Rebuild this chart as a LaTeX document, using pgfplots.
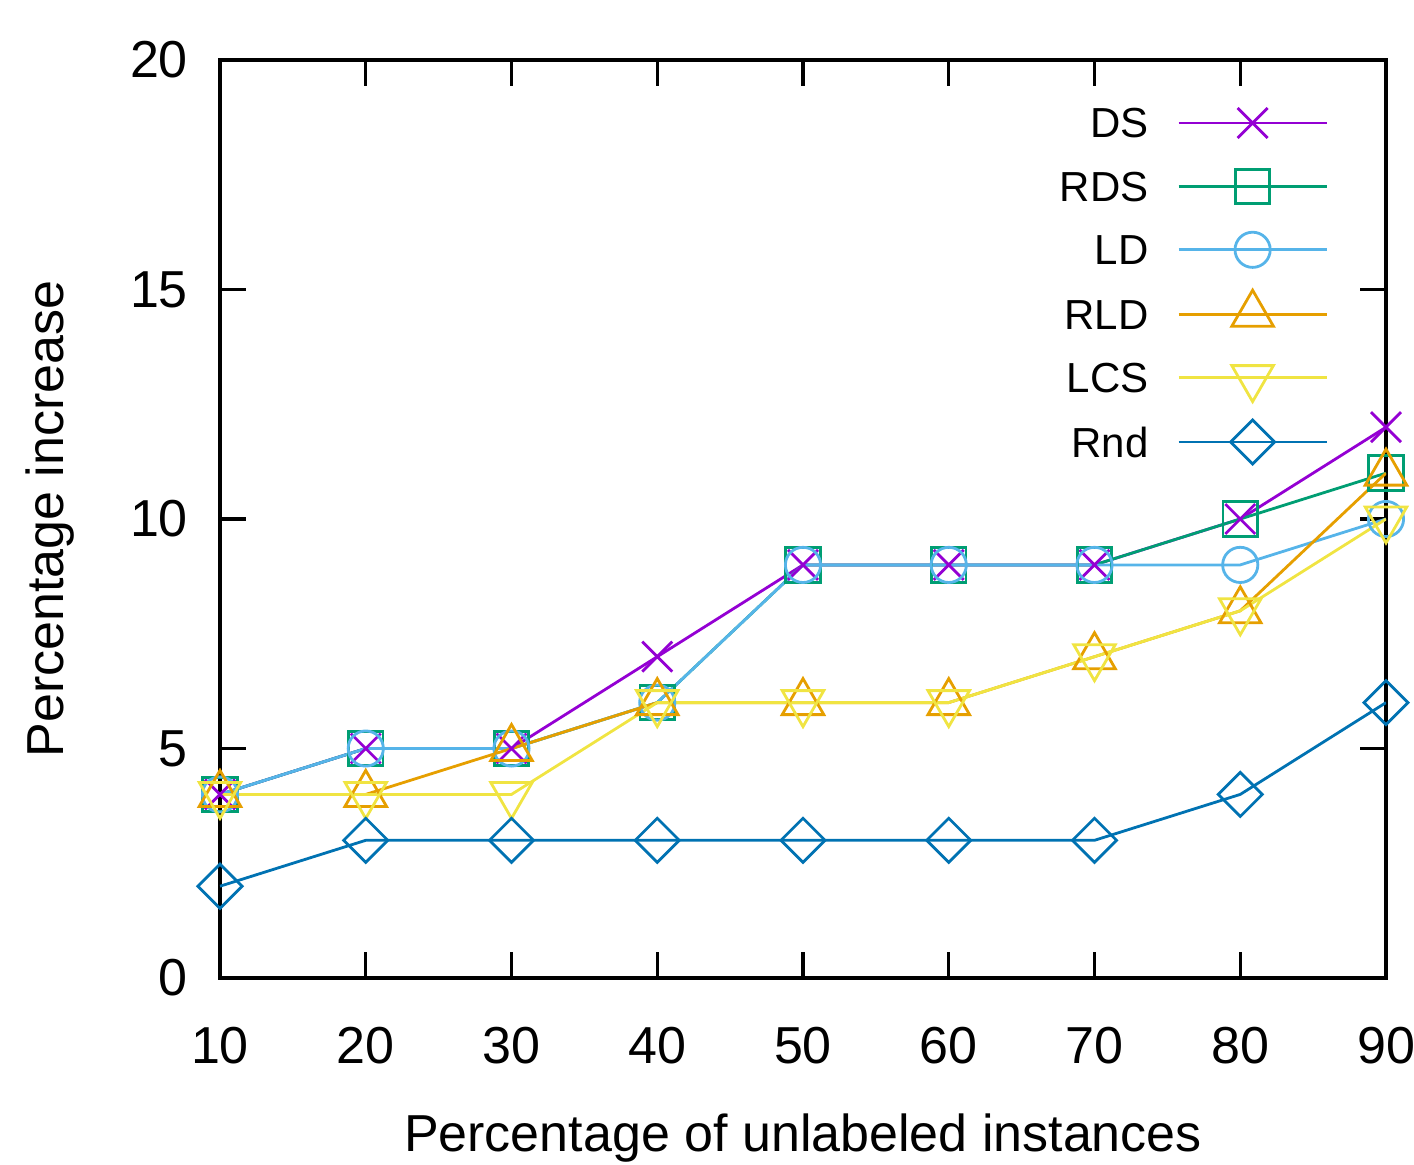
\documentclass[border=0pt]{standalone}
\usepackage{fontspec}
\setmainfont{Liberation Sans}
\usepackage{pgfplots}
\pgfplotsset{compat=1.18}
\definecolor{cDS}{HTML}{9400D3}
\definecolor{cRDS}{HTML}{009E73}
\definecolor{cLD}{HTML}{56B4E9}
\definecolor{cRLD}{HTML}{E69F00}
\definecolor{cLCS}{HTML}{F0E442}
\definecolor{cRnd}{HTML}{0072B2}
\begin{document}
\fontsize{13}{15}\selectfont
\begin{tikzpicture}
\begin{axis}[
    name=ax,
    scale only axis,
    width=291.5pt, height=229.5pt,
    xmin=10, xmax=90, ymin=0, ymax=20,
    xtick={10,20,...,90},
    ytick={0,5,...,20},
    axis line style={line width=0.8pt},
    every tick/.style={black, line width=0.8pt},
    major tick length=6.5pt,
    /pgf/number format/assume math mode=true,
    ticklabel style={font=\fontsize{13}{15}\selectfont},
    xticklabel style={yshift=-7.8pt},
    yticklabel style={xshift=-3.5pt},
    xlabel={Percentage of unlabeled instances},
    ylabel={Percentage increase},
    every axis x label/.style={at={(axis description cs:0.5,-0.1745)}, anchor=center},
    every axis y label/.style={at={(axis description cs:-0.1458,0.5)}, rotate=90, anchor=center},
    legend plot pos=right,
    legend cell align=right,
    legend image code/.code={\draw[mark repeat=2,mark phase=2] plot coordinates {(0cm,0cm) (0.65cm,0cm) (1.3cm,0cm)};},
    legend style={draw=none, fill=none, inner sep=0pt, outer sep=0pt,
        font=\fontsize{10.5}{12}\selectfont,
        at={(rel axis cs:1,1)}, anchor=north east, xshift=-14.5pt, yshift=-10pt,
        nodes={inner sep=2pt, text height=7.5pt, text depth=0pt},
        row sep=4.35pt, column sep=5.2pt},
    every axis plot/.append style={line width=0.7pt, mark options={solid}},
]
\addplot[cDS, mark=x, mark size=5.3pt] coordinates {
    (10,4) (20,5) (30,5) (40,7) (50,9) (60,9) (70,9) (80,10) (90,12)};
\addplot[cRDS, mark=square, mark size=4.3pt] coordinates {
    (10,4) (20,5) (30,5) (40,6) (50,9) (60,9) (70,9) (80,10) (90,11)};
\addplot[cLD, mark=o, mark size=4.4pt] coordinates {
    (10,4) (20,5) (30,5) (40,6) (50,9) (60,9) (70,9) (80,9) (90,10)};
\addplot[cRLD, mark=triangle, mark size=6pt] coordinates {
    (10,4) (20,4) (30,5) (40,6) (50,6) (60,6) (70,7) (80,8) (90,11)};
\addplot[cLCS, mark=triangle, mark size=6pt, mark options={rotate=180}] coordinates {
    (10,4) (20,4) (30,4) (40,6) (50,6) (60,6) (70,7) (80,8) (90,10)};
\addplot[cRnd, mark=square, mark size=3.9pt, mark options={rotate=45}] coordinates {
    (10,2) (20,3) (30,3) (40,3) (50,3) (60,3) (70,3) (80,4) (90,6)};
\legend{DS, RDS, LD, RLD, LCS, Rnd}
\end{axis}
\pgfresetboundingbox
\path[use as bounding box] ([shift={(-55pt,-46.5pt)}]ax.south west) rectangle ([shift={(7pt,15pt)}]ax.north east);
\end{tikzpicture}
\end{document}
